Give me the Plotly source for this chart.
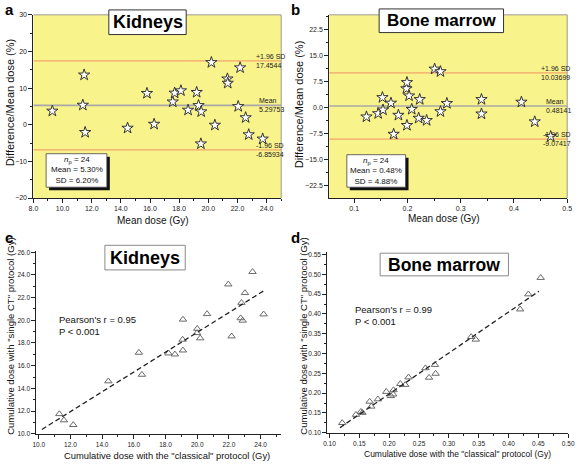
import numpy as np
import plotly.graph_objects as go

W, H = 584, 464
FONT = "Arial, Liberation Sans, sans-serif"

# ---------------- data ----------------
# panel a: Kidneys Bland-Altman
kid_mean_dose = [9.30, 11.48, 11.39, 11.55, 14.46, 15.79, 16.28, 17.56, 17.69, 18.12, 18.61, 19.20,
                 19.33, 19.51, 19.49, 20.21, 20.45, 21.31, 21.33, 22.18, 22.05, 22.56, 22.77, 23.73]
kid_diff_pct = [3.75, 13.6, 5.36, -2.08, -0.91, 8.58, 0.16, 6.25, 8.67, 9.30, 4.0, 8.85,
                5.27, 3.57, -5.2, 17.0, -0.1, 12.53, 11.36, 15.57, 5.0, 1.95, -2.7, -3.87]
kid_limits = {"upper": 17.4544, "mean": 5.29753, "lower": -6.85934}
kid_limit_text = {"upper": "17.4544", "mean": "5.29753", "lower": "-6.85934"}
limit_labels = {"upper": "+1.96 SD", "mean": "Mean", "lower": "-1.96 SD"}
kid_stats = ["24", "5.30%", "6.20%"]

# panel b: Bone marrow Bland-Altman
bm_mean_dose = [0.123, 0.145, 0.153, 0.154, 0.169, 0.174, 0.183, 0.198, 0.199, 0.199, 0.203, 0.208,
                0.223, 0.221, 0.236, 0.251, 0.262, 0.262, 0.274, 0.339, 0.339, 0.414, 0.439, 0.469]
bm_diff_pct = [-2.65, -1.70, 2.93, -0.66, 1.32, -7.66, -2.18, 5.49, 7.28, -5.11, 3.41, -0.47,
               2.37, -3.03, -3.69, 11.16, 10.41, -1.14, 1.23, 2.37, -1.80, 1.61, -4.07, -8.33]
bm_limits = {"upper": 10.03699, "mean": 0.48141, "lower": -9.07417}
bm_limit_text = {"upper": "10.03699", "mean": "0.48141", "lower": "-9.07417"}
bm_stats = ["24", "0.48%", "4.88%"]

# panel c: Kidneys correlation
kid_classical = [11.30, 11.59, 12.18, 14.39, 16.32, 16.51, 18.19, 18.59, 19.10, 19.08, 19.10, 20.00,
                 19.99, 20.19, 20.62, 21.96, 22.17, 22.79, 22.74, 22.87, 23.01, 23.49, 24.19]
kid_single_ct = [11.74, 11.19, 10.78, 14.63, 17.15, 15.21, 17.09, 17.00, 17.35, 18.30, 20.07, 19.26,
                 18.88, 18.42, 20.56, 23.17, 18.59, 21.55, 20.19, 19.98, 22.41, 24.27, 20.53]
kid_fit_span = [10.2, 24.2]
kid_pearson = ["0.95", "< 0.001"]

# panel d: Bone marrow correlation
bm_classical = [0.1213, 0.1443, 0.1525, 0.1553, 0.1673, 0.1700, 0.1810, 0.1952, 0.2028, 0.2067, 0.2072, 0.2187,
                0.2269, 0.2324, 0.2608, 0.2668, 0.2767, 0.2778, 0.3374, 0.3451, 0.4195, 0.4332, 0.4539]
bm_single_ct = [0.1249, 0.1456, 0.1531, 0.1506, 0.1788, 0.1663, 0.1846, 0.2036, 0.1929, 0.1970, 0.2078, 0.2235,
                0.2211, 0.2401, 0.2633, 0.2393, 0.2716, 0.2493, 0.3421, 0.3355, 0.4118, 0.4499, 0.4914]
bm_fit_span = [0.1175, 0.451]
bm_pearson = ["0.99", "< 0.001"]

# ---------------- helpers ----------------
def px(x):
    return x / W

def py(y):
    return 1 - y / H

YELLOW = "#F9F38C"
SD_COLOR = "#F2A66A"
MEAN_COLOR = "#A8A8A8"
AX = "#222222"

fig = go.Figure()
shapes = []
ann = []

boxes = {
    "a": (29, 282, 11, 197),
    "b": (331, 574, 11, 197),
    "c": (32, 281.7, 250.3, 436.3),
    "d": (329, 575, 252, 435.3),
}
axis_ids = {"a": ("x", "y"), "b": ("x2", "y2"), "c": ("x3", "y3"), "d": ("x4", "y4")}

def dom(key):
    x0, x1, y0, y1 = boxes[key]
    return [px(x0), px(x1)], [py(y1), py(y0)]

# ---------- Bland-Altman panels ----------
def bland(key, xs, ys, limits, limit_text, stats, xr, label_x, stat_box, title, title_box, title_size):
    xa, ya = axis_ids[key]
    x0, x1, y0, y1 = boxes[key]
    shapes.append(dict(type="rect", xref="paper", yref="paper", x0=px(x0), x1=px(x1), y0=py(y1), y1=py(y0),
                       fillcolor=YELLOW, line=dict(width=0), layer="below"))
    shapes.append(dict(type="line", xref="paper", yref="paper", x0=px(x0), x1=px(x1), y0=py(y0), y1=py(y0),
                       line=dict(color="#9a9a9a", width=1)))
    shapes.append(dict(type="line", xref="paper", yref="paper", x0=px(x1), x1=px(x1), y0=py(y1), y1=py(y0),
                       line=dict(color="#9a9a9a", width=1)))
    for k, col in [("upper", SD_COLOR), ("mean", MEAN_COLOR), ("lower", SD_COLOR)]:
        fig.add_trace(go.Scatter(x=[xr[0], xr[1]], y=[limits[k], limits[k]], mode="lines",
                                 line=dict(color=col, width=1.6 if k == "mean" else 1.3),
                                 xaxis=xa, yaxis=ya, showlegend=False, hoverinfo="skip"))
    fig.add_trace(go.Scatter(x=xs, y=ys, mode="markers",
                             marker=dict(symbol="star", size=8.5, color="white",
                                         line=dict(color="#333333", width=1)),
                             xaxis=xa, yaxis=ya, showlegend=False))
    for k, lxp in zip(["upper", "mean", "lower"], label_x):
        val = limits[k]
        ann.append(dict(xref="paper", yref=ya, x=px(lxp), y=val, text=limit_labels[k], showarrow=False,
                        xanchor="left", yanchor="middle", yshift=4.5,
                        font=dict(size=7, color="#222", family=FONT)))
        ann.append(dict(xref="paper", yref=ya, x=px(lxp), y=val, text=limit_text[k], showarrow=False,
                        xanchor="left", yanchor="middle", yshift=-4.5,
                        font=dict(size=7, color="#222", family=FONT)))
    sx0, sx1, sy0, sy1 = stat_box
    shapes.append(dict(type="rect", xref="paper", yref="paper", x0=px(sx0 + 3), x1=px(sx1 + 3),
                       y0=py(sy1 + 3), y1=py(sy0 + 3), fillcolor="#111111", line=dict(width=0)))
    shapes.append(dict(type="rect", xref="paper", yref="paper", x0=px(sx0), x1=px(sx1),
                       y0=py(sy1), y1=py(sy0), fillcolor="white", line=dict(color="#444", width=0.8)))
    ann.append(dict(xref="paper", yref="paper", x=px((sx0 + sx1) / 2), y=py((sy0 + sy1) / 2),
                    text=f"<i>n</i><sub>p</sub> = {stats[0]}<br>Mean = {stats[1]}<br>SD = {stats[2]}",
                    showarrow=False, align="center", xanchor="center", yanchor="middle",
                    font=dict(size=8, color="#111", family=FONT)))
    tx0, tx1, ty0, ty1 = title_box
    shapes.append(dict(type="rect", xref="paper", yref="paper", x0=px(tx0), x1=px(tx1),
                       y0=py(ty1), y1=py(ty0), fillcolor="white", line=dict(color="#333", width=1)))
    ann.append(dict(xref="paper", yref="paper", x=px((tx0 + tx1) / 2), y=py((ty0 + ty1) / 2),
                    text=f"<b>{title}</b>", showarrow=False, xanchor="center", yanchor="middle",
                    font=dict(size=title_size, color="#000", family=FONT)))

bland("a", kid_mean_dose, kid_diff_pct, kid_limits, kid_limit_text, kid_stats, [8, 25],
      [254, 257, 254], (42, 104, 152, 186), "Kidneys", (106, 185, 6, 31), 18)
bland("b", bm_mean_dose, bm_diff_pct, bm_limits, bm_limit_text, bm_stats, [0.053, 0.5],
      [545, 550, 547], (349, 409, 153, 186), "Bone marrow", (382, 509, 5, 29), 17)

# ---------- correlation panels ----------
def corr(key, xs, ys, span, pear, title, title_box, title_size, pear_xy):
    xa, ya = axis_ids[key]
    fig.add_trace(go.Scatter(x=xs, y=ys, mode="markers",
                             marker=dict(symbol="triangle-up-open", size=6.5, color="#6a6a6a",
                                         line=dict(width=1)),
                             xaxis=xa, yaxis=ya, showlegend=False))
    slope, intercept = np.polyfit(np.array(xs), np.array(ys), 1)
    fx = np.array(span)
    fig.add_trace(go.Scatter(x=fx, y=slope * fx + intercept, mode="lines",
                             line=dict(color="#222", width=1.3, dash="5px,3px"),
                             xaxis=xa, yaxis=ya, showlegend=False, hoverinfo="skip"))
    tx0, tx1, ty0, ty1 = title_box
    shapes.append(dict(type="rect", xref="paper", yref="paper", x0=px(tx0), x1=px(tx1),
                       y0=py(ty1), y1=py(ty0), fillcolor="white", line=dict(color="#8a8a8a", width=1)))
    ann.append(dict(xref="paper", yref="paper", x=px((tx0 + tx1) / 2), y=py((ty0 + ty1) / 2),
                    text=f"<b>{title}</b>", showarrow=False, xanchor="center", yanchor="middle",
                    font=dict(size=title_size, color="#000", family=FONT)))
    ann.append(dict(xref="paper", yref="paper", x=px(pear_xy[0]), y=py(pear_xy[1]),
                    text=f"Pearson's r = {pear[0]}<br>P {pear[1]}", showarrow=False, align="left",
                    xanchor="left", yanchor="middle", font=dict(size=9.5, color="#111", family=FONT)))

corr("c", kid_classical, kid_single_ct, kid_fit_span, kid_pearson, "Kidneys", (102, 184, 245, 270), 18, (53, 326.5))
corr("d", bm_classical, bm_single_ct, bm_fit_span, bm_pearson, "Bone marrow", (383, 514, 253, 276), 17.5, (355, 316.5))

# ---------- axes ----------
def axis(domain, rng, dtick, tick0, fmt, minor, anchor, size=7):
    return dict(domain=domain, range=rng, dtick=dtick, tick0=tick0, tickformat=fmt, anchor=anchor,
                showgrid=False, zeroline=False, showline=True, linecolor=AX, linewidth=1,
                ticks="outside", ticklen=4, tickwidth=1, tickcolor=AX,
                minor=dict(ticks="outside", ticklen=2, dtick=minor, tickcolor=AX, showgrid=False),
                tickfont=dict(size=size, color="#222", family=FONT), mirror=False)

da = dom("a"); db = dom("b"); dc = dom("c"); dd = dom("d")
layout = dict(
    xaxis=axis(da[0], [8, 25], 2, 8, ".1f", 1, "y"),
    yaxis=axis(da[1], [-20, 30], 10, 0, "d", 5, "x"),
    xaxis2=axis(db[0], [0.053, 0.5], 0.1, 0.1, ".1f", 0.05, "y2"),
    yaxis2=axis(db[1], [-26.1, 26.8], 7.5, 0, ".1f", 3.75, "x2"),
    xaxis3=axis(dc[0], [9.85, 25.28], 2, 10, ".1f", 1, "y3", 6.5),
    yaxis3=axis(dc[1], [10, 26.15], 2, 10, ".1f", 1, "x3", 6.5),
    xaxis4=axis(dd[0], [0.0962, 0.5], 0.05, 0.1, ".2f", 0.025, "y4", 6.5),
    yaxis4=axis(dd[1], [0.1, 0.556], 0.05, 0.1, ".2f", 0.025, "x4", 6.5),
)

def title_ann(x, y, text, size, rot=0):
    ann.append(dict(xref="paper", yref="paper", x=px(x), y=py(y), text=text, showarrow=False,
                    textangle=rot, xanchor="center", yanchor="middle",
                    font=dict(size=size, color="#111", family=FONT)))

title_ann(151, 220, "Mean dose (Gy)", 10)
title_ann(6, 100, "Difference/Mean dose (%)", 11, -90)
title_ann(448, 218, "Mean dose (Gy)", 10)
title_ann(301, 102, "Difference/Mean dose (%)", 11, -90)
title_ann(165, 458, "Cumulative dose with the \"classical\" protocol (Gy)", 9.4)
title_ann(6, 337, "Cumulative dose with \"single CT\" protocol (Gy)", 9.5, -90)
title_ann(462, 457, "Cumulative dose with the \"classical\" protocol (Gy)", 8.5)
title_ann(305, 337, "Cumulative dose with \"single CT\" protocol (Gy)", 9.5, -90)

for lab, (x, y) in {"a": (-2, -5), "b": (290, -5), "c": (-2, 226), "d": (290, 226)}.items():
    ann.append(dict(xref="paper", yref="paper", x=px(x), y=py(y), text=f"<b>{lab}</b>", showarrow=False,
                    xanchor="left", yanchor="top", font=dict(size=15, color="#000", family=FONT)))

fig.update_layout(**layout)
fig.update_layout(width=W, height=H, margin=dict(l=0, r=0, t=0, b=0),
                  paper_bgcolor="white", plot_bgcolor="rgba(0,0,0,0)",
                  shapes=shapes, annotations=ann, showlegend=False)
fig.write_html("out.html", config={"displayModeBar": False},
               post_script="document.body.style.margin='0';document.body.style.overflow='hidden';")
